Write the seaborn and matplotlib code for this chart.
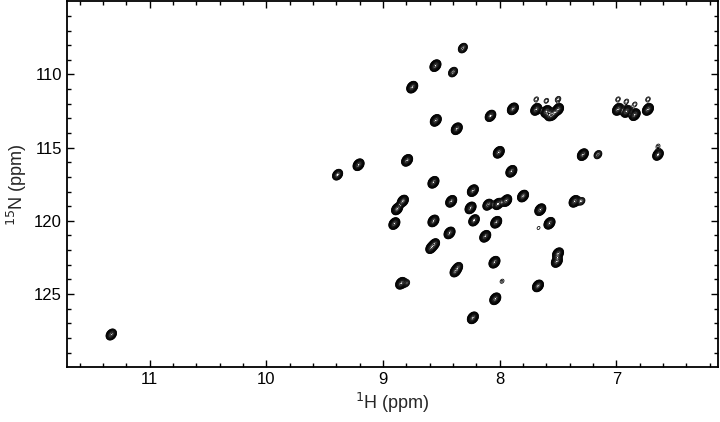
import numpy as np
import matplotlib
matplotlib.use("Agg")
import matplotlib.pyplot as plt
import seaborn as sns

# peak list: 1H shift, 15N shift, relative height
h_ppm = [8.316, 8.551, 8.40, 8.75, 7.887, 8.079, 7.687, 7.60, 7.545, 7.50, 7.57,
         6.986, 6.914, 6.843, 6.729,
         8.548, 8.368, 8.008, 8.794, 9.21, 9.39, 7.90, 7.287, 7.158, 6.643,
         8.568, 8.23, 7.80, 8.83, 8.416, 7.358, 7.30, 8.88, 8.25, 8.10, 8.016,
         7.944, 7.652, 8.903, 8.568, 8.22, 8.03, 7.573, 8.43, 8.124, 8.588,
         8.56, 7.50, 7.51, 8.045, 8.38, 8.36, 8.845, 8.80, 7.672, 8.038, 8.23,
         11.33, 7.98, 7.667,
         7.687, 7.60, 7.50, 6.986, 6.914, 6.843, 6.729, 6.643]
n_ppm = [108.2, 109.4, 109.84, 110.87, 112.35, 112.83, 112.39, 112.53, 112.75, 112.39, 112.8,
         112.39, 112.53, 112.75, 112.39,
         113.14, 113.71, 115.32, 115.87, 116.17, 116.85, 116.62, 115.48, 115.48, 115.48,
         117.37, 117.94, 118.31, 118.65, 118.67, 118.67, 118.67, 119.19, 119.12, 118.9, 118.85,
         118.62, 119.24, 120.19, 120.01, 119.97, 120.1, 120.17, 120.83, 121.06, 121.85,
         121.6, 122.25, 122.78, 122.83, 123.45, 123.2, 124.27, 124.27, 124.45, 125.33, 126.63,
         127.77, 124.13, 120.49,
         111.7, 111.8, 111.7, 111.7, 111.85, 112.05, 111.7, 114.9]
height = [0.35, 1, 0.35, 1, 1, 0.8, 1, 1, 0.6, 1, 0.5,
          1, 1, 1, 1,
          1, 1, 1, 1, 1, 0.6, 1, 1, 0.2, 0.8,
          1, 1, 1, 1, 1, 1, 0.15, 1, 1, 0.7, 0.8,
          1, 1, 1, 1, 0.8, 1, 1, 1, 1, 0.8,
          0.7, 1, 1, 1, 0.8, 0.5, 1, 0.12, 1, 1, 1,
          0.7, 0.06, 0.05,
          0.07, 0.07, 0.09, 0.07, 0.07, 0.07, 0.07, 0.06]

sns.set_theme(style="ticks")
plt.rcParams['font.family'] = ['Liberation Sans', 'DejaVu Sans']

# build the 2D spectrum from the peak list
hh = np.linspace(6.1, 11.75, 1400)
nn = np.linspace(104.8, 130.2, 700)
H, N = np.meshgrid(hh, nn)
sh, sn, rho = 0.019, 0.16, 0.25
Z = np.zeros_like(H)
for h0, n0, a in zip(h_ppm, n_ppm, height):
    u = (H - h0) / sh
    v = (N - n0) / sn
    Z += a * np.exp(-(u * u - 2 * rho * u * v + v * v) / (2 * (1 - rho ** 2)))

levels = np.geomspace(0.04, 0.85, 11)

fig = plt.figure(figsize=(7.2, 4.22), dpi=100)
ax = fig.add_axes([0.093, 0.13, 0.904, 0.867])
ax.contour(H, N, Z, levels=levels, colors='black', linewidths=0.55)

ax.set_xlim(11.71, 6.13)
ax.set_ylim(130, 105)
ax.set_xticks([11, 10, 9, 8, 7])
ax.set_yticks([110, 115, 120, 125])
ax.set_xticks(np.arange(6.2, 11.71, 0.2), minor=True)
ax.set_yticks(np.arange(106, 130, 1), minor=True)
ax.tick_params(which='both', direction='in', top=True, right=True,
               labelsize=12, colors='black', width=1)
ax.tick_params(which='major', length=5)
ax.tick_params(which='minor', length=3)
for s in ax.spines.values():
    s.set_linewidth(1.3)
    s.set_color('black')
ax.set_xlabel('$^{1}$H (ppm)', fontsize=13, labelpad=3)
ax.set_ylabel('$^{15}$N (ppm)', fontsize=13, labelpad=4)

fig.savefig('out.png', dpi=100)
